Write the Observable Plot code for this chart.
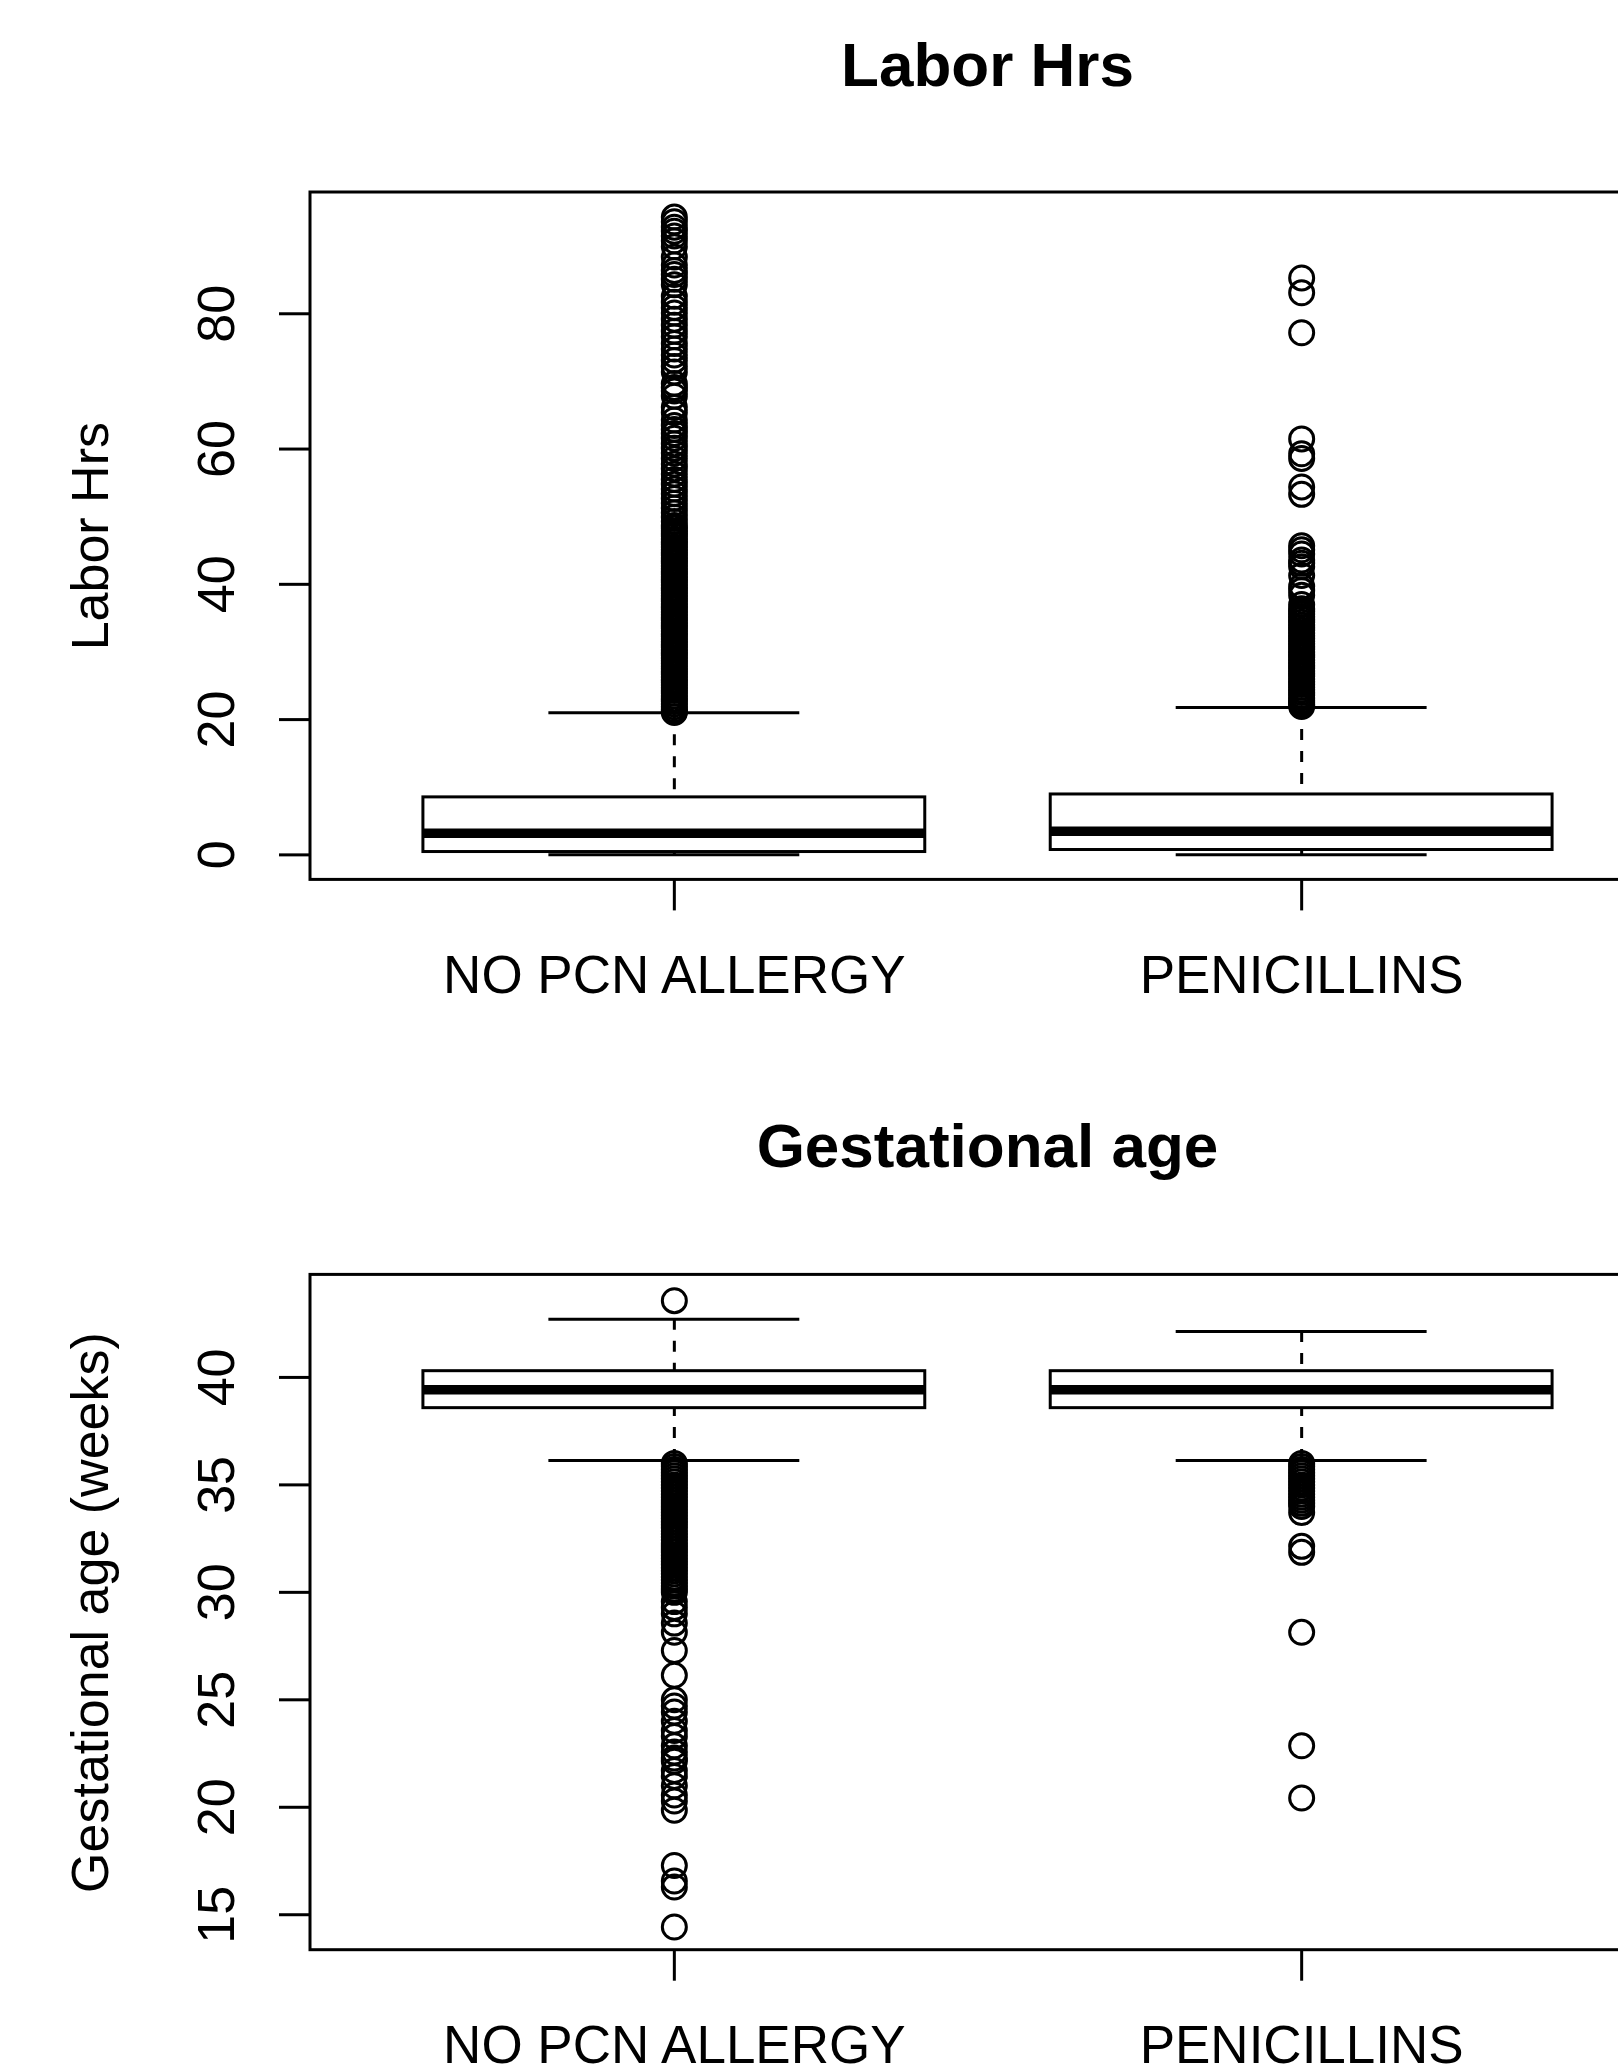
<!DOCTYPE html>
<html>
<head>
<meta charset="utf-8">
<script src="https://cdn.jsdelivr.net/npm/d3@7"></script>
<script src="https://cdn.jsdelivr.net/npm/@observablehq/plot@0.6"></script>
<style>
html, body { margin: 0; padding: 0; background: #fff; }
#page { position: relative; width: 1618px; height: 2064px; overflow: hidden; background: #fff;
        font-family: "Liberation Sans", Arial, Helvetica, sans-serif; color: #000; }
.title { position: absolute; left: 310px; width: 1355px; text-align: center; font-weight: bold;
         font-size: 62px; line-height: 62px; white-space: nowrap; z-index: 5; }
.panel { position: absolute; left: 0; width: 1618px; z-index: 1; }
.panel svg { overflow: visible; max-width: none !important; background: transparent !important; }
</style>
</head>
<body>
<div id="page"></div>
<script>
// ---------- data ----------
const groups = ["NO PCN ALLERGY", "PENICILLINS"];

// Labor Hrs box statistics (per group)
const laborLow    = [0, 0];
const laborQ1     = [0.42, 0.72];
const laborMedian = [3.2, 3.5];
const laborQ3     = [8.5, 8.93];
const laborHigh   = [21.0, 21.8];
const laborTicks  = [0, 20, 40, 60, 80];

const laborOutNoPcn = [94.3, 93.6, 92.8, 92.2, 91.5, 90.8, 89.9, 88.4, 87.2, 86.4, 85.8, 85.1, 84.3,
  82.6, 81.7, 80.9, 80.1, 79.2, 78.3, 77.4, 76.6, 75.6, 74.8, 73.9, 73.1, 72.2, 71.4, 69.7, 69.1,
  68.6, 67.8, 66.2, 65.4, 64.3, 63.5, 62.9, 62.3, 61.6, 60.8, 60.1, 59.4, 58.6, 57.8, 57.1, 56.3,
  55.5, 54.8, 54.1, 53.4, 52.7, 52.0, 51.3, 50.6, 49.9, 49.3, 48.7, 48.3, 47.9, 47.5, 47.1, 46.7,
  46.3, 45.9, 45.5, 45.1, 44.7, 44.3, 43.9, 43.5, 43.1, 42.7, 42.3, 41.9, 41.5, 41.1, 40.7, 40.3,
  39.9, 39.5, 39.1, 38.7, 38.3, 37.9, 37.5, 37.1, 36.7, 36.3, 35.9, 35.5, 35.1, 34.7, 34.3, 33.9,
  33.5, 33.1, 32.7, 32.3, 31.9, 31.5, 31.1, 30.7, 30.3, 29.9, 29.5, 29.1, 28.7, 28.3, 27.9, 27.5,
  27.1, 26.7, 26.3, 25.9, 25.5, 25.1, 24.7, 24.3, 23.9, 23.5, 23.1, 22.7, 22.3, 21.9, 21.5, 21.2, 21.05];
const laborOutPcn = [85.3, 83.1, 77.2, 61.5, 59.3, 58.6, 54.4, 53.3, 45.7, 45.1, 44.5, 43.6, 43.1,
  42.6, 41.3, 39.7, 39.1, 38.4, 37.0, 36.4, 36.0, 35.6, 35.2, 34.8, 34.4, 34.0, 33.6, 33.2, 32.8,
  32.4, 32.0, 31.6, 31.2, 30.8, 30.4, 30.0, 29.6, 29.2, 28.8, 28.4, 28.0, 27.6, 27.2, 26.8, 26.4,
  26.0, 25.6, 25.2, 24.8, 24.4, 24.0, 23.6, 23.2, 22.8, 22.5, 22.2, 21.95];

// Gestational age box statistics (per group)
const gestLow    = [36.14, 36.14];
const gestQ1     = [38.57, 38.57];
const gestMedian = [39.43, 39.43];
const gestQ3     = [40.29, 40.29];
const gestHigh   = [42.71, 42.14];
const gestTicks  = [15, 20, 25, 30, 35, 40];

const gestOutNoPcn = [43.57, 36.0, 35.86, 35.71, 35.57, 35.43, 35.29, 35.14, 35.0, 34.86, 34.71,
  34.57, 34.43, 34.29, 34.14, 34.0, 33.86, 33.71, 33.57, 33.43, 33.29, 33.14, 33.0, 32.86, 32.71,
  32.57, 32.43, 32.29, 32.14, 32.0, 31.86, 31.71, 31.57, 31.43, 31.29, 31.14, 31.0, 30.86, 30.71,
  30.57, 30.43, 30.29, 30.14, 30.0, 29.57, 29.29, 29.0, 28.57, 28.14, 27.29, 26.14, 25.0, 24.71,
  24.43, 24.0, 23.57, 23.29, 22.86, 22.57, 22.29, 22.14, 21.71, 21.43, 21.0, 20.57, 20.29, 19.86,
  17.29, 16.57, 16.29, 14.43];
const gestOutPcn = [36.0, 35.86, 35.71, 35.57, 35.43, 35.29, 35.14, 35.0, 34.86, 34.71, 34.57,
  34.43, 34.29, 34.14, 34.0, 33.71, 32.14, 31.86, 28.14, 22.86, 20.43];

// ---------- drawing ----------
const FONT = '"Liberation Sans", Arial, Helvetica, sans-serif';
const page = document.getElementById("page");
const LW = 3;

function panel({title, titleTop, ylabel, low, q1, med, q3, high, outs, ticks, yDomain,
                top, height, frameTop, frameBottom}) {
  const rows = groups.map((g, i) => ({g, pos: i + 1, lo: low[i], q1: q1[i], med: med[i], q3: q3[i], hi: high[i]}));
  const outRows = outs.flatMap((arr, i) => arr.map(v => ({pos: i + 1, v})));
  const xDomain = [0.42, 2.58];
  const frame = [{x1: xDomain[0], x2: xDomain[1], y1: yDomain[0], y2: yDomain[1]}];

  const svg = Plot.plot({
    width: 1618,
    height,
    marginLeft: 310,
    marginRight: 0,
    marginTop: frameTop,
    marginBottom: height - frameBottom,
    x: {type: "linear", domain: xDomain, range: [310, 1665], axis: null},
    y: {type: "linear", domain: yDomain, range: [frameBottom, frameTop], axis: null},
    style: {fontFamily: FONT, background: "transparent", color: "black", overflow: "visible"},
    marks: [
      // whiskers (dashed)
      Plot.ruleX(rows, {x: "pos", y1: "hi", y2: "q3", stroke: "black", strokeWidth: LW, strokeDasharray: "11,11"}),
      Plot.ruleX(rows, {x: "pos", y1: "lo", y2: "q1", stroke: "black", strokeWidth: LW, strokeDasharray: "11,11"}),
      // staples
      Plot.ruleY(rows, {y: "hi", x1: d => d.pos - 0.2, x2: d => d.pos + 0.2, stroke: "black", strokeWidth: LW}),
      Plot.ruleY(rows, {y: "lo", x1: d => d.pos - 0.2, x2: d => d.pos + 0.2, stroke: "black", strokeWidth: LW}),
      // boxes
      Plot.rect(rows, {x1: d => d.pos - 0.4, x2: d => d.pos + 0.4, y1: "q1", y2: "q3",
                       fill: "white", stroke: "black", strokeWidth: LW}),
      // medians
      Plot.ruleY(rows, {y: "med", x1: d => d.pos - 0.4, x2: d => d.pos + 0.4, stroke: "black", strokeWidth: 9.5}),
      // outliers
      Plot.dot(outRows, {x: "pos", y: "v", r: 12, fill: "none", stroke: "black", strokeWidth: 3}),
      // frame
      Plot.rect(frame, {x1: "x1", x2: "x2", y1: "y1", y2: "y2", fill: "none", stroke: "black", strokeWidth: 3}),
      // y ticks
      Plot.axisY({ticks, tickSize: 31, tickFormat: () => "", stroke: "black", strokeWidth: 3}),
      Plot.text(ticks, {y: d => d, frameAnchor: "left", dx: -93, rotate: -90, text: d => String(d),
                        fontSize: 52, textAnchor: "middle", lineAnchor: "middle", fill: "black"}),
      // x ticks
      Plot.axisX({ticks: [1, 2], tickSize: 31, tickFormat: () => "", stroke: "black", strokeWidth: 3}),
      Plot.text(rows, {x: "pos", frameAnchor: "bottom", dy: 96, text: "g", fontSize: 53,
                       textAnchor: "middle", lineAnchor: "middle", fill: "black"}),
      // y label
      Plot.text([ylabel], {frameAnchor: "left", dx: -219, rotate: -90, text: d => d, fontSize: 52,
                           textAnchor: "middle", lineAnchor: "middle", fill: "black"})
    ]
  });
  const wrap = document.createElement("div");
  wrap.className = "panel";
  wrap.style.top = top + "px";
  wrap.style.height = height + "px";
  wrap.appendChild(svg);
  page.appendChild(wrap);

  const t = document.createElement("div");
  t.className = "title";
  t.style.top = titleTop + "px";
  t.textContent = title;
  page.appendChild(t);
}

panel({
  title: "Labor Hrs", titleTop: 34, ylabel: "Labor Hrs",
  low: laborLow, q1: laborQ1, med: laborMedian, q3: laborQ3, high: laborHigh,
  outs: [laborOutNoPcn, laborOutPcn], ticks: laborTicks,
  yDomain: [-3.70, 97.93],
  top: 0, height: 1032, frameTop: 192, frameBottom: 879.4
});

panel({
  title: "Gestational age", titleTop: 1115, ylabel: "Gestational age (weeks)",
  low: gestLow, q1: gestQ1, med: gestMedian, q3: gestQ3, high: gestHigh,
  outs: [gestOutNoPcn, gestOutPcn], ticks: gestTicks,
  yDomain: [13.35, 44.77],
  top: 1032, height: 1032, frameTop: 242.4, frameBottom: 917.7
});
</script>
</body>
</html>
